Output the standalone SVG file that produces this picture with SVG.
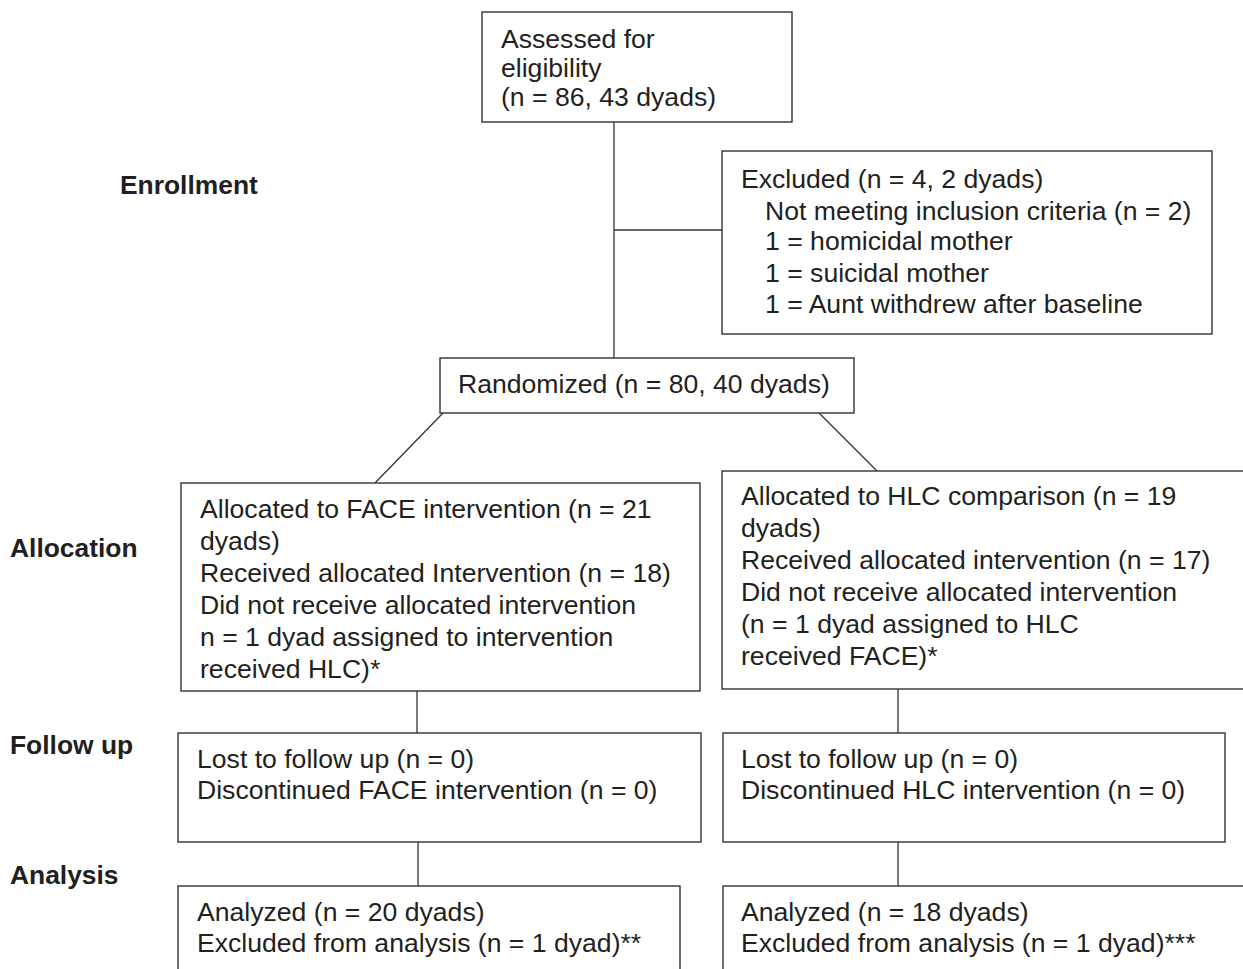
<svg xmlns="http://www.w3.org/2000/svg" width="1243" height="969" viewBox="0 0 1243 969">
<style>
.box{fill:#fff;stroke:#333;stroke-width:1.4}
.ln{stroke:#333;stroke-width:1.3;fill:none}
text{font-family:"Liberation Sans",Arial,sans-serif;font-size:26.6px;fill:#231f20}
.lab{font-weight:bold;font-size:26.4px}
</style>
<rect width="1243" height="969" fill="#fff"/>
<g id="connectors">
<line class="ln" x1="614" y1="122" x2="614" y2="358"/>
<line class="ln" x1="614" y1="230" x2="722" y2="230"/>
<line class="ln" x1="443" y1="413" x2="375" y2="483"/>
<line class="ln" x1="819" y1="413" x2="877" y2="471"/>
<line class="ln" x1="417" y1="691" x2="417" y2="733"/>
<line class="ln" x1="898" y1="689" x2="898" y2="733"/>
<line class="ln" x1="418" y1="842" x2="418" y2="886"/>
<line class="ln" x1="898" y1="842" x2="898" y2="886"/>
</g>
<g id="labels">
<text class="lab" x="120" y="194">Enrollment</text>
<text class="lab" x="10" y="557">Allocation</text>
<text class="lab" x="10" y="754">Follow up</text>
<text class="lab" x="10" y="884">Analysis</text>
</g>
<g id="assessed">
<rect class="box" x="482" y="12" width="310" height="110"/>
<text x="501" y="48">Assessed for</text>
<text x="501" y="77">eligibility</text>
<text x="501" y="106">(n = 86, 43 dyads)</text>
</g>
<g id="excluded">
<rect class="box" x="722" y="151" width="490" height="183"/>
<text x="741" y="188">Excluded (n = 4, 2 dyads)</text>
<text x="765" y="220">Not meeting inclusion criteria (n = 2)</text>
<text x="765" y="250">1 = homicidal mother</text>
<text x="765" y="282">1 = suicidal mother</text>
<text x="765" y="313">1 = Aunt withdrew after baseline</text>
</g>
<g id="randomized">
<rect class="box" x="440" y="358" width="414" height="55"/>
<text x="458" y="393">Randomized (n = 80, 40 dyads)</text>
</g>
<g id="alloc-face">
<rect class="box" x="181" y="483" width="519" height="208"/>
<text x="200" y="518">Allocated to FACE intervention (n = 21</text>
<text x="200" y="550">dyads)</text>
<text x="200" y="582">Received allocated Intervention (n = 18)</text>
<text x="200" y="614">Did not receive allocated intervention</text>
<text x="200" y="646">n = 1 dyad assigned to intervention</text>
<text x="200" y="678">received HLC)*</text>
</g>
<g id="alloc-hlc">
<rect class="box" x="722" y="471" width="540" height="218"/>
<text x="741" y="505">Allocated to HLC comparison (n = 19</text>
<text x="741" y="537">dyads)</text>
<text x="741" y="569">Received allocated intervention (n = 17)</text>
<text x="741" y="601">Did not receive allocated intervention</text>
<text x="741" y="633">(n = 1 dyad assigned to HLC</text>
<text x="741" y="665">received FACE)*</text>
</g>
<g id="follow-face">
<rect class="box" x="178" y="733" width="523" height="109"/>
<text x="197" y="768">Lost to follow up (n = 0)</text>
<text x="197" y="799">Discontinued FACE intervention (n = 0)</text>
</g>
<g id="follow-hlc">
<rect class="box" x="723" y="733" width="502" height="109"/>
<text x="741" y="768">Lost to follow up (n = 0)</text>
<text x="741" y="799">Discontinued HLC intervention (n = 0)</text>
</g>
<g id="analysis-face">
<rect class="box" x="178" y="886" width="502" height="120"/>
<text x="197" y="921">Analyzed (n = 20 dyads)</text>
<text x="197" y="952">Excluded from analysis (n = 1 dyad)**</text>
</g>
<g id="analysis-hlc">
<rect class="box" x="723" y="886" width="540" height="120"/>
<text x="741" y="921">Analyzed (n = 18 dyads)</text>
<text x="741" y="952">Excluded from analysis (n = 1 dyad)***</text>
</g>
</svg>
